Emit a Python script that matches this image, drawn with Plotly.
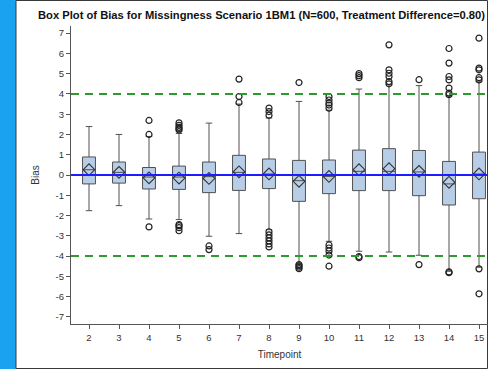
import plotly.graph_objects as go

timepoints = [2, 3, 4, 5, 6, 7, 8, 9, 10, 11, 12, 13, 14, 15]
q1 = [-0.44, -0.40, -0.69, -0.71, -0.87, -0.76, -0.67, -1.30, -0.92, -0.77, -0.77, -1.02, -1.48, -1.17]
median = [0.26, 0.13, -0.10, -0.10, -0.08, 0.13, 0.05, -0.28, -0.07, 0.18, 0.18, 0.15, -0.44, 0.05]
q3 = [0.89, 0.64, 0.37, 0.44, 0.64, 0.97, 0.79, 0.72, 0.74, 1.23, 1.30, 1.21, 0.67, 1.13]
lower_whisker = [-1.76, -1.51, -2.17, -2.20, -3.02, -2.89, -2.70, -4.40, -3.27, -3.76, -3.80, -3.96, -4.75, -4.55]
upper_whisker = [2.39, 2.00, 1.90, 2.05, 2.56, 3.50, 2.81, 3.63, 3.20, 4.24, 4.45, 4.41, 3.90, 4.60]
means = [0.26, 0.13, -0.14, -0.15, -0.17, 0.16, 0.05, -0.31, -0.07, 0.26, 0.31, 0.18, -0.36, 0.05]
outliers = [
    [],
    [],
    [2.00, 2.69, -2.56],
    [2.22, 2.28, 2.35, 2.45, 2.57, -2.45, -2.50, -2.60, -2.75],
    [-3.50, -3.68],
    [3.58, 3.87, 4.73],
    [2.95, 3.13, 3.30, -2.80, -2.95, -3.10, -3.25, -3.40, -3.55],
    [4.56, -4.42, -4.48, -4.55, -4.62],
    [3.30, 3.45, 3.55, 3.70, 3.87, -3.45, -3.60, -3.75, -3.95, -4.50],
    [4.80, 4.90, 5.00, -4.02, -4.08],
    [4.50, 4.61, 4.86, 5.02, 5.19, 6.42],
    [4.70, -4.42],
    [3.96, 4.04, 4.29, 4.69, 4.86, 5.52, 6.24, -4.78, -4.82],
    [4.69, 4.80, 5.19, 5.27, 6.75, -4.63, -5.86],
]
y_ticks = [-7, -6, -5, -4, -3, -2, -1, 0, 1, 2, 3, 4, 5, 6, 7]
title_text = "Box Plot of Bias for Missingness Scenario 1BM1 (N=600, Treatment Difference=0.80)"

W, H = 488, 369
ML, MR, MT, MB = 71, 0, 26, 45
PW, PH = W - ML - MR, H - MT - MB

def px_to_paper_x(px):
    return (px - ML) / PW

def px_to_paper_y(py):
    return 1 - (py - MT) / PH

fig = go.Figure()

fig.add_trace(go.Box(
    x=timepoints, q1=q1, median=median, q3=q3,
    lowerfence=lower_whisker, upperfence=upper_whisker,
    width=0.43, whiskerwidth=0.5,
    fillcolor="#b8cde6", line=dict(color="#505050", width=1),
    boxpoints=False, showlegend=False, hoverinfo="skip",
))

ox, oy = [], []
for t, vals in zip(timepoints, outliers):
    for v in vals:
        ox.append(t)
        oy.append(v)
fig.add_trace(go.Scatter(
    x=ox, y=oy, mode="markers", showlegend=False, hoverinfo="skip",
    marker=dict(symbol="circle-open", size=6, color="#222222", line=dict(width=1.2)),
))

fig.add_trace(go.Scatter(
    x=timepoints, y=means, mode="markers", showlegend=False, hoverinfo="skip",
    marker=dict(symbol="diamond-open", size=9, color="#333333", line=dict(width=1.1)),
))

shapes = [
    dict(type="rect", xref="paper", yref="paper",
         x0=px_to_paper_x(0), x1=px_to_paper_x(16), y0=px_to_paper_y(H), y1=px_to_paper_y(0),
         fillcolor="#1aa1f0", line=dict(width=0), layer="below"),
    dict(type="rect", xref="paper", yref="paper",
         x0=px_to_paper_x(16), x1=px_to_paper_x(487.5), y0=px_to_paper_y(368.5), y1=px_to_paper_y(0.5),
         fillcolor="rgba(0,0,0,0)", line=dict(color="#3a3a3a", width=1), layer="below"),
    dict(type="line", xref="paper", yref="y", x0=0, x1=1, y0=0, y1=0,
         line=dict(color="#1c1cff", width=2)),
    dict(type="line", xref="paper", yref="y", x0=0, x1=1, y0=4, y1=4,
         line=dict(color="#2e9a2e", width=2, dash="8px,6px")),
    dict(type="line", xref="paper", yref="y", x0=0, x1=1, y0=-4, y1=-4,
         line=dict(color="#2e9a2e", width=2, dash="8px,6px")),
]

fig.update_layout(
    width=W, height=H,
    margin=dict(l=ML, r=MR, t=MT, b=MB),
    paper_bgcolor="white", plot_bgcolor="white",
    shapes=shapes,
    title=dict(text="<b>" + title_text + "</b>", x=261.5 / W, xanchor="center",
               y=1 - 15 / H, yanchor="middle",
               font=dict(family="Liberation Sans, Arial", size=11.2, color="#111111")),
    font=dict(family="Liberation Sans, Arial", size=9.5, color="#333333"),
    xaxis=dict(range=[1.4, 15.3], tickmode="array", tickvals=timepoints,
               ticktext=[str(t) for t in timepoints],
               showline=True, linecolor="#555555", linewidth=1.2,
               ticks="outside", ticklen=4, tickcolor="#555555",
               showgrid=False, zeroline=False,
               title=dict(text="Timepoint", font=dict(size=10), standoff=9)),
    yaxis=dict(range=[-7.35, 7.35], tickmode="array", tickvals=y_ticks,
               ticktext=[str(v) for v in y_ticks],
               showline=True, linecolor="#555555", linewidth=1.2,
               ticks="outside", ticklen=4, tickcolor="#555555",
               showgrid=False, zeroline=False,
               title=dict(text="Bias", font=dict(size=10), standoff=14)),
)

fig.write_html("out.html")
